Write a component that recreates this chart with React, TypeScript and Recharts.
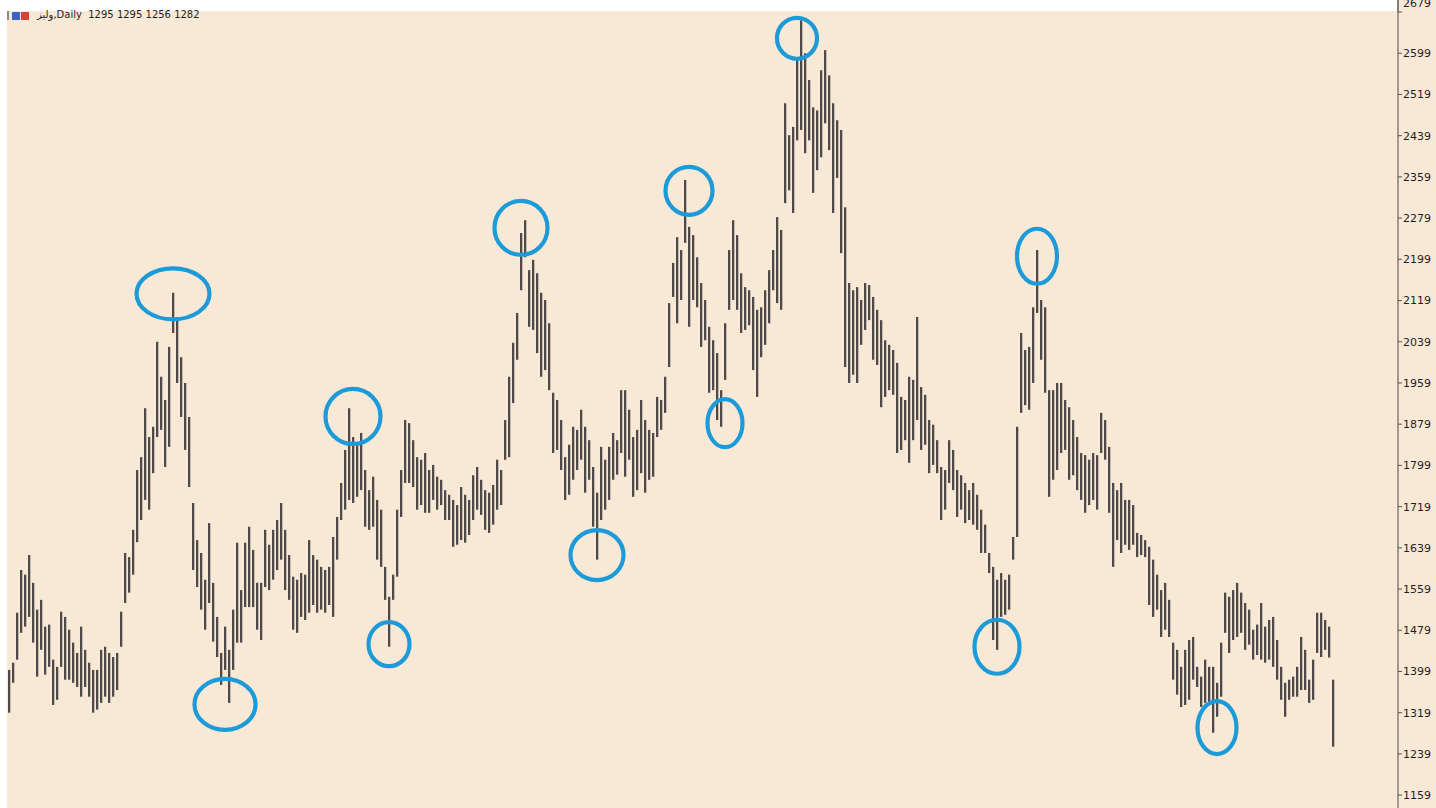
import React from 'react';
import { ComposedChart, Bar, XAxis, YAxis, ReferenceDot } from 'recharts';

// Daily bar highs (left to right)
const barHighs = [
  1402, 1416, 1513, 1596, 1587, 1625, 1571, 1519, 1538, 1486,
  1490, 1422, 1408, 1515, 1505, 1480, 1455, 1435, 1486, 1441,
  1416, 1402, 1402, 1441, 1447, 1435, 1427, 1435, 1515, 1629,
  1621, 1674, 1790, 1815, 1910, 1854, 1874, 2039, 1971, 1926,
  2029, 2134, 2087, 2009, 1959, 1893, 1726, 1654, 1629, 1577,
  1687, 1571, 1505, 1435, 1486, 1441, 1519, 1649, 1557, 1649,
  1680, 1635, 1571, 1571, 1674, 1645, 1674, 1693, 1726, 1674,
  1625, 1583, 1577, 1590, 1587, 1654, 1625, 1616, 1602, 1596,
  1602, 1660, 1699, 1765, 1829, 1910, 1854, 1839, 1862, 1790,
  1751, 1777, 1732, 1713, 1602, 1544, 1587, 1713, 1790, 1887,
  1881, 1848, 1815, 1810, 1823, 1790, 1800, 1777, 1771, 1751,
  1742, 1732, 1722, 1757, 1742, 1732, 1780, 1796, 1771, 1751,
  1746, 1761, 1810, 1790, 1887, 1971, 2037, 2095, 2250, 2275,
  2178, 2198, 2172, 2134, 2120, 2075, 1940, 1926, 1887, 1815,
  1839, 1874, 1868, 1907, 1874, 1848, 1796, 1746, 1835, 1810,
  1835, 1862, 1848, 1945, 1945, 1907, 1854, 1868, 1926, 1887,
  1868, 1862, 1932, 1926, 1971, 2114, 2192, 2242, 2217, 2353,
  2262, 2246, 2203, 2153, 2120, 2068, 2042, 2017, 1945, 2075,
  2217, 2275, 2246, 2172, 2145, 2139, 2126, 2101, 2106, 2139,
  2178, 2217, 2281, 2256, 2502, 2440, 2456, 2586, 2663, 2599,
  2547, 2494, 2488, 2566, 2605, 2556, 2502, 2469, 2450, 2300,
  2153, 2139, 2145, 2120, 2153, 2149, 2126, 2101, 2081, 2042,
  2033, 2023, 1998, 1932, 1926, 1971, 1965, 2087, 1951, 1936,
  1887, 1878, 1848, 1796, 1790, 1848, 1829, 1790, 1780, 1765,
  1751, 1765, 1742, 1713, 1684, 1629, 1602, 1577, 1590, 1577,
  1587, 1660, 1874, 2056, 2023, 2029, 2106, 2217, 2120, 2106,
  1945, 1945, 1959, 1959, 1926, 1912, 1887, 1854, 1823, 1819,
  1810, 1823, 1819, 1901, 1887, 1835, 1765, 1751, 1765, 1732,
  1732, 1722, 1668, 1664, 1654, 1641, 1616, 1587, 1557, 1571,
  1538, 1455, 1441, 1408, 1441, 1460, 1466, 1408, 1389, 1422,
  1408, 1408, 1377, 1455, 1552, 1544, 1557, 1571, 1552, 1532,
  1519, 1480, 1490, 1532, 1486, 1499, 1505, 1460, 1408, 1377,
  1383, 1389, 1408, 1466, 1441, 1383, 1422, 1513, 1513, 1499,
  1486, 1383,
];

// Daily bar lows (left to right)
const barLows = [
  1319, 1377, 1422, 1474, 1486, 1505, 1455, 1389, 1441, 1393,
  1408, 1334, 1344, 1408, 1383, 1383, 1377, 1369, 1350, 1369,
  1350, 1319, 1325, 1338, 1350, 1338, 1350, 1363, 1447, 1532,
  1552, 1587, 1650, 1693, 1732, 1713, 1784, 1854, 1868, 1796,
  1835, 2056, 1959, 1893, 1829, 1757, 1596, 1563, 1519, 1480,
  1532, 1457, 1427, 1373, 1402, 1338, 1402, 1455, 1455, 1524,
  1524, 1524, 1480, 1460, 1563, 1557, 1577, 1596, 1616, 1557,
  1538, 1480, 1474, 1505, 1499, 1513, 1528, 1513, 1519, 1513,
  1528, 1505, 1616, 1693, 1713, 1732, 1726, 1738, 1751, 1680,
  1674, 1680, 1616, 1602, 1538, 1447, 1538, 1583, 1699, 1765,
  1765, 1757, 1713, 1722, 1707, 1707, 1732, 1713, 1722, 1693,
  1693, 1641, 1645, 1654, 1649, 1664, 1693, 1713, 1703, 1674,
  1668, 1684, 1713, 1722, 1810, 1815, 1920, 2004, 2139, 2203,
  2068, 2062, 2017, 1971, 1984, 1945, 1823, 1829, 1790, 1732,
  1742, 1771, 1790, 1810, 1746, 1771, 1680, 1616, 1693, 1713,
  1732, 1771, 1781, 1823, 1777, 1810, 1738, 1751, 1784, 1746,
  1771, 1777, 1854, 1868, 1901, 1990, 2126, 2075, 2120, 2231,
  2068, 2120, 2106, 2029, 2042, 1940, 1945, 1887, 1874, 1965,
  2101, 2120, 2101, 2056, 2062, 2071, 1984, 1932, 2009, 2033,
  2075, 2139, 2114, 2101, 2308, 2333, 2289, 2430, 2450, 2405,
  2430, 2328, 2372, 2397, 2463, 2411, 2289, 2357, 2211, 1990,
  1959, 1975, 1959, 2033, 2062, 2081, 2004, 1994, 1912, 1932,
  1945, 1936, 1823, 1829, 1848, 1804, 1848, 1887, 1829, 1839,
  1784, 1800, 1784, 1693, 1713, 1765, 1751, 1699, 1713, 1687,
  1693, 1684, 1674, 1629, 1629, 1590, 1460, 1441, 1505, 1509,
  1519, 1616, 1660, 1901, 1916, 1907, 1959, 2095, 2004, 1940,
  1738, 1771, 1790, 1823, 1829, 1771, 1780, 1751, 1732, 1707,
  1722, 1732, 1713, 1823, 1810, 1707, 1602, 1654, 1629, 1645,
  1635, 1645, 1621, 1625, 1621, 1528, 1505, 1519, 1466, 1480,
  1466, 1383, 1354, 1330, 1334, 1344, 1383, 1369, 1330, 1338,
  1334, 1280, 1311, 1350, 1474, 1435, 1460, 1466, 1474, 1441,
  1451, 1422, 1431, 1422, 1416, 1422, 1408, 1383, 1344, 1311,
  1344, 1350, 1350, 1363, 1363, 1338, 1344, 1435, 1427, 1441,
  1426, 1253,
];

const priceTicks = [
  1159, 1239, 1319, 1399, 1479, 1559, 1639, 1719, 1799, 1879,
  1959, 2039, 2119, 2199, 2279, 2359, 2439, 2519, 2599, 2679,
];

const headerSymbol = 'ولیز';
const headerPeriod = 'Daily';
const headerQuote = [1295, 1295, 1256, 1282];

// Swing highs / lows circled on the chart (bar index, price)
const swingIndex = [41, 54, 86, 95, 128, 147, 170, 179, 197, 247, 257, 302];
const swingPrice = [2132, 1335, 1894, 1452, 2260, 1625, 2332, 1881, 2628, 1447, 2205, 1290];

// ring radii in pixels (style only)
const ringRadii: [number, number][] = [
  [36.5, 25.5], [30.5, 25.5], [27.5, 27.5], [20.5, 22], [26.5, 27], [26.5, 25],
  [23.5, 24], [17.5, 24], [20, 20.5], [22.5, 27], [20, 27.5], [19.5, 26.5],
];

const data = barHighs.map((h, i) => ({ i, range: [barLows[i], h] }));

const BG = '#f8e9d7';
const RING = '#1d9ad8';
const TOP_TICK = priceTicks[priceTicks.length - 1];

const makeRing = (rx: number, ry: number) => (props: any) => {
  const { cx, cy } = props;
  if (cx == null || cy == null) return <g />;
  return <ellipse cx={cx} cy={cy} rx={rx} ry={ry} fill="none" stroke={RING} strokeWidth={4.2} />;
};

const PriceTick = (props: any) => {
  const { x, y, payload } = props;
  const shift = payload.value === TOP_TICK ? -9 : 0;
  return (
    <text
      x={x}
      y={y + shift}
      dy="0.36em"
      textAnchor="start"
      fontSize={11}
      fontFamily="DejaVu Sans"
      fill="#1e1e1e"
    >
      {payload.value}
    </text>
  );
};

export default function App() {
  return (
    <div
      style={{
        position: 'absolute',
        left: 0,
        top: 0,
        width: 1436,
        height: 808,
        background: '#ffffff',
        overflow: 'hidden',
      }}
    >
      <div style={{ position: 'absolute', left: 7, top: 11, width: 1429, height: 797, background: BG }} />
      <div style={{ position: 'absolute', left: 1397, top: 0, width: 39, height: 12, background: BG }} />
      <div style={{ position: 'absolute', left: 1397, top: 0, width: 1.5, height: 12, background: '#877e77' }} />
      <div style={{ position: 'absolute', left: 0, top: 0 }}>
        <ComposedChart
          width={1436}
          height={808}
          data={data}
          margin={{ top: 11, right: 0, bottom: 0, left: 7 }}
          barCategoryGap={0}
        >
          <XAxis dataKey="i" type="category" hide padding={{ left: 0, right: 63 }} />
          <YAxis
            orientation="right"
            type="number"
            domain={[1134, 2681]}
            ticks={priceTicks}
            interval={0}
            allowDataOverflow
            width={38}
            tickSize={4}
            tickMargin={1}
            axisLine={{ stroke: '#877e77', strokeWidth: 1.5 }}
            tickLine={{ stroke: '#5a5450' }}
            tick={<PriceTick />}
          />
          <Bar dataKey="range" fill="#4f4a47" barSize={2.3} isAnimationActive={false} />
          {swingIndex.map((idx, k) => (
            <ReferenceDot
              key={k}
              x={idx}
              y={swingPrice[k]}
              r={20}
              ifOverflow="visible"
              shape={makeRing(ringRadii[k][0], ringRadii[k][1])}
            />
          ))}
        </ComposedChart>
      </div>
      <div
        style={{
          position: 'absolute',
          left: 7,
          top: 11,
          height: 9,
          display: 'flex',
          alignItems: 'center',
        }}
      >
        <div style={{ width: 2, height: 9, background: '#8a8a8a', marginRight: 3 }} />
        <div style={{ width: 8, height: 8, background: '#3a63c8', marginRight: 1 }} />
        <div style={{ width: 8, height: 8, background: '#d8403a' }} />
      </div>
      <div
        style={{
          position: 'absolute',
          left: 37,
          top: 9,
          fontFamily: 'DejaVu Sans',
          fontSize: 10,
          color: '#1e1e1e',
          whiteSpace: 'pre',
          lineHeight: '12px',
        }}
      >
        {`${headerSymbol},${headerPeriod}  ${headerQuote.join(' ')}`}
      </div>
    </div>
  );
}
